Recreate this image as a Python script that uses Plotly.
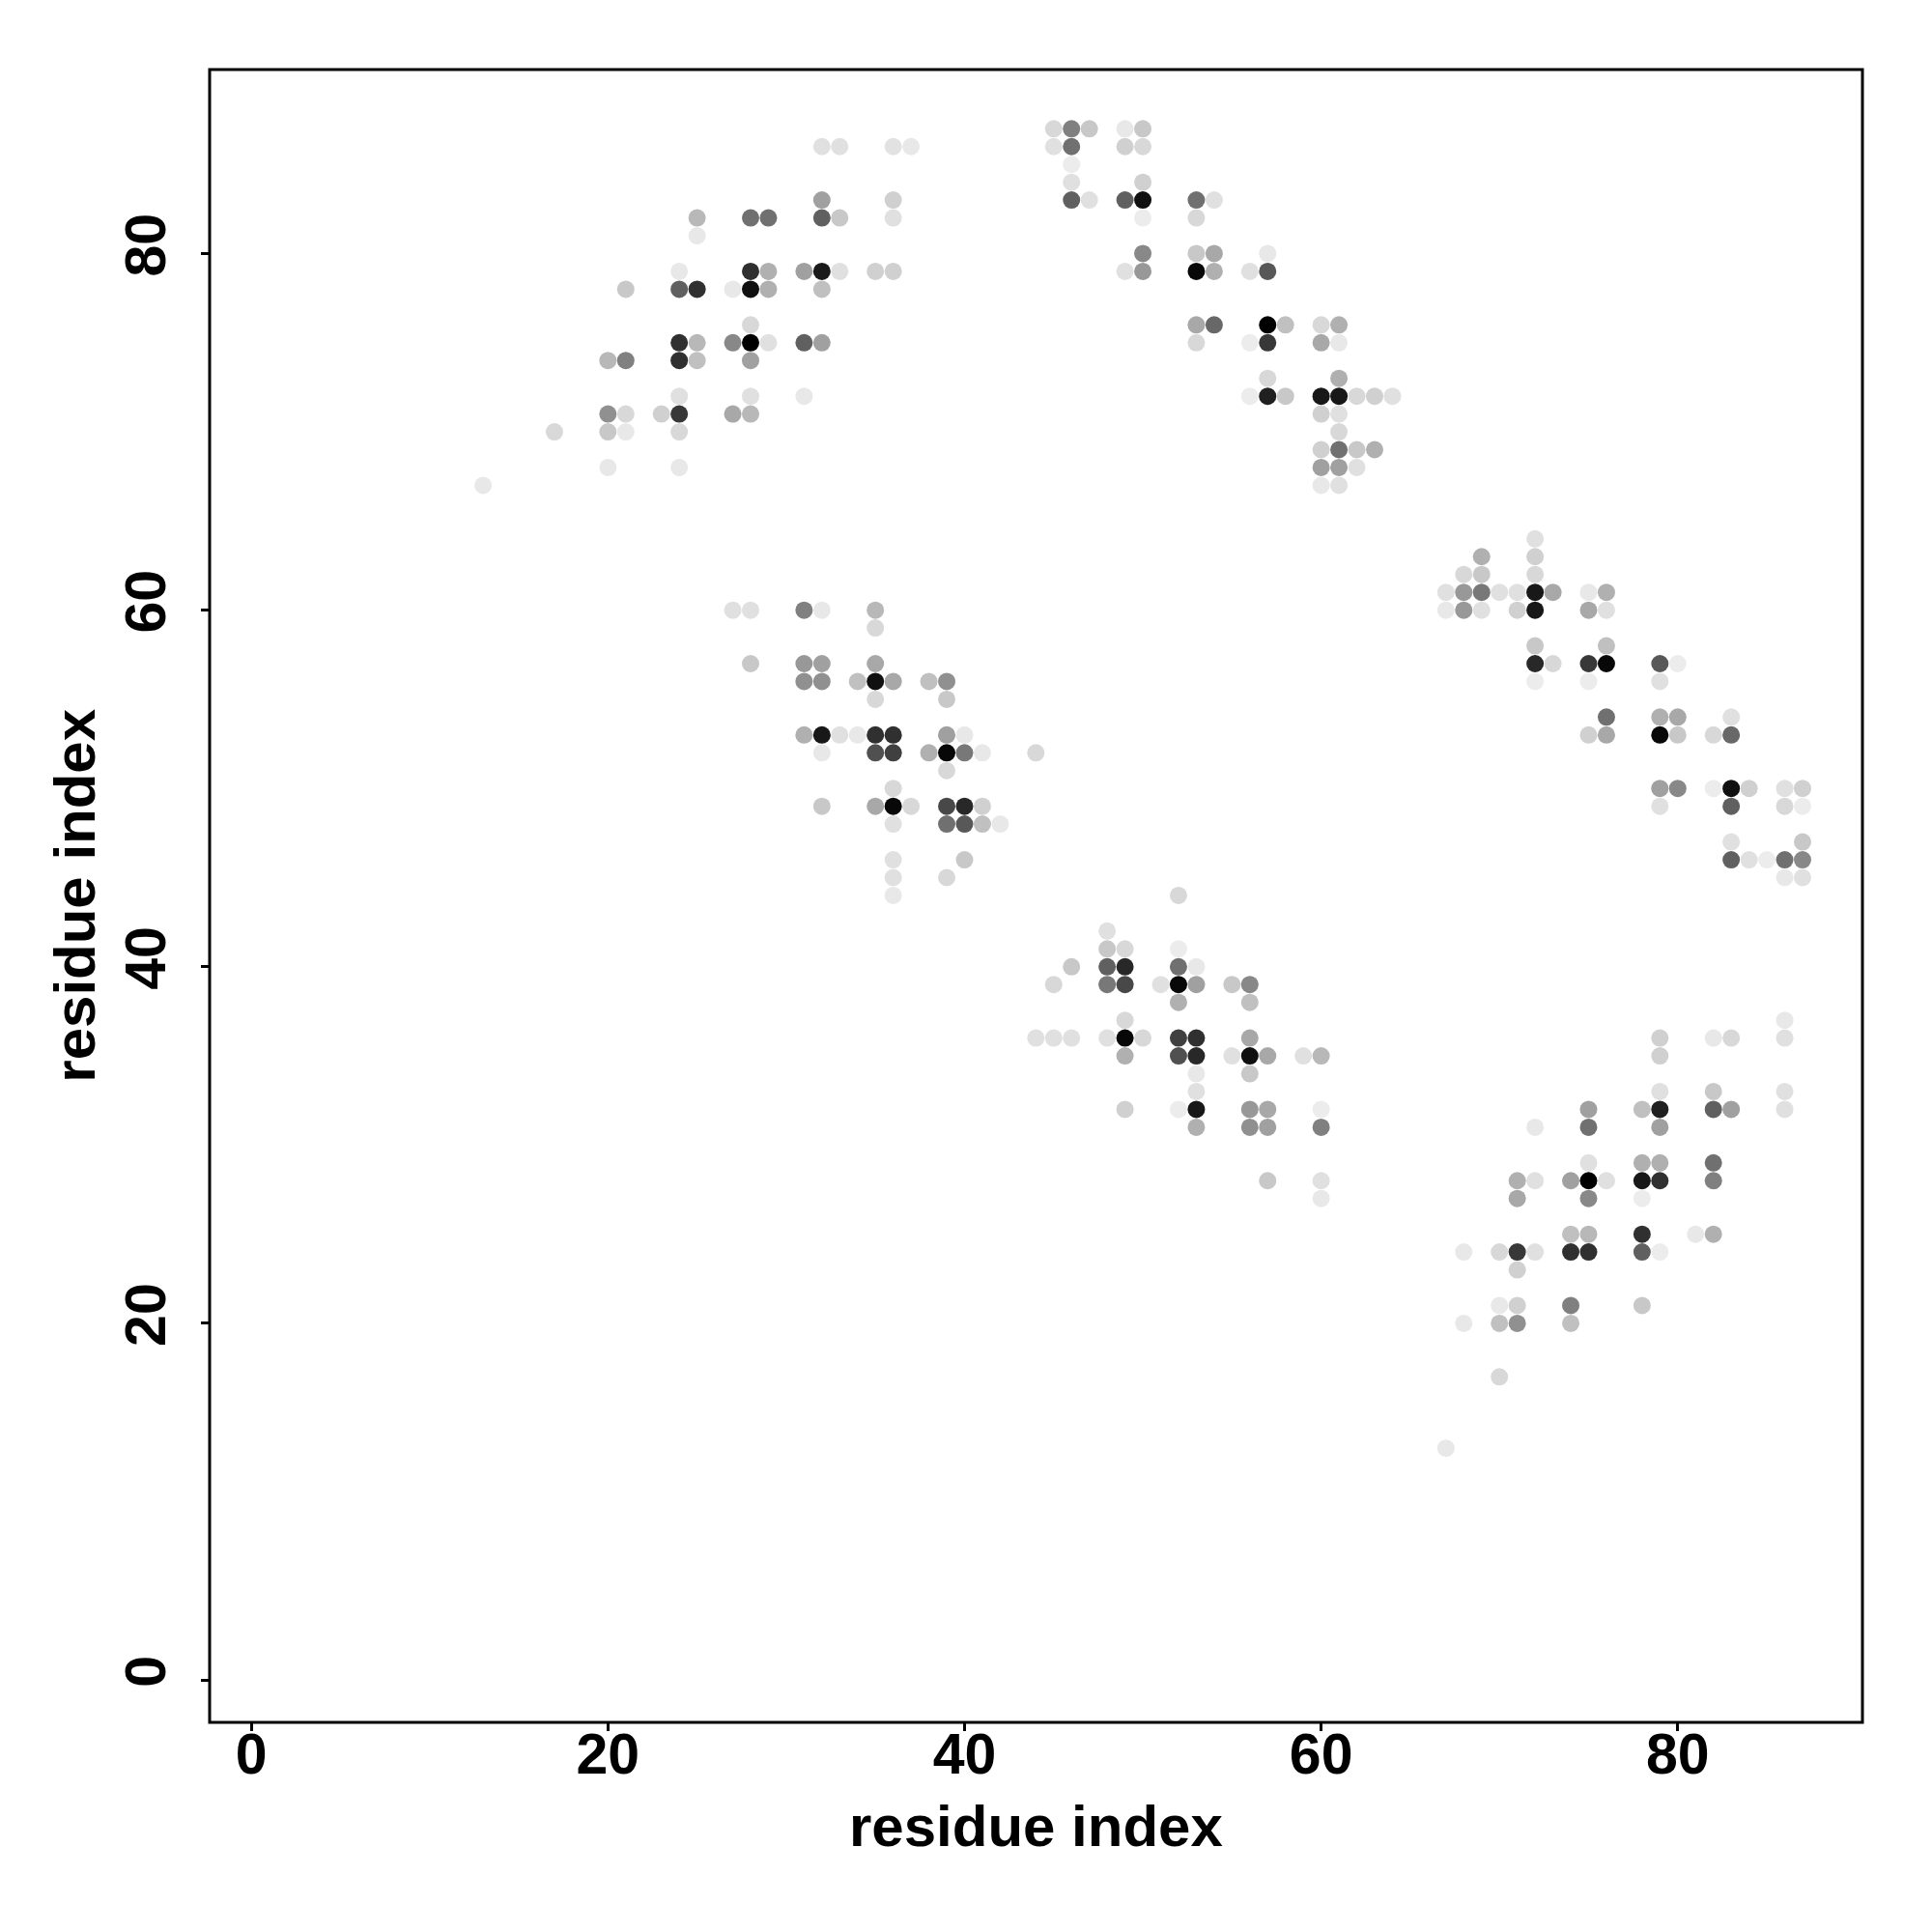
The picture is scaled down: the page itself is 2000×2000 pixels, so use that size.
import plotly.graph_objects as go

# (residue i, residue j, grey level 0=black .. 255=white)
cluster_a = [
    (32,86,224),(33,86,224),(36,86,226),(37,86,232),
    (32,83,160),(36,83,208),
    (25,82,184),(28,82,112),(29,82,112),(32,82,96),(33,82,200),(36,82,224),
    (25,81,232),
    (24,79,232),(28,79,48),(29,79,176),(31,79,160),(32,79,26),(33,79,224),(35,79,208),(36,79,208),
    (21,78,200),(24,78,96),(25,78,48),(27,78,232),(28,78,16),(29,78,176),(32,78,192),
    (28,76,216),
    (24,75,48),(25,75,184),(27,75,136),(28,75,0),(29,75,224),(31,75,96),(32,75,160),
    (20,74,184),(21,74,128),(24,74,48),(25,74,192),(28,74,160),
    (24,72,224),(28,72,224),(31,72,232),
    (20,71,144),(21,71,216),(23,71,208),(24,71,56),(27,71,168),(28,71,184),
    (17,70,216),(20,70,200),(21,70,232),(24,70,216),
    (20,68,232),(24,68,232),
    (13,67,232),
]
cluster_b = [
    (45,87,216),(46,87,128),(47,87,200),(49,87,232),(50,87,200),
    (45,86,224),(46,86,112),(49,86,208),(50,86,216),
    (46,85,236),
    (46,84,224),(50,84,208),
    (46,83,96),(47,83,224),(49,83,96),(50,83,16),(53,83,112),(54,83,224),
    (50,82,236),(53,82,216),
    (50,80,136),(53,80,200),(54,80,168),(57,80,232),
    (49,79,224),(50,79,152),(53,79,8),(54,79,176),(56,79,224),(57,79,88),
    (53,76,168),(54,76,104),(57,76,0),(58,76,192),(60,76,216),(61,76,176),
    (53,75,216),(56,75,236),(57,75,56),(60,75,168),(61,75,232),
    (57,73,216),(61,73,176),
    (56,72,236),(57,72,32),(58,72,200),(60,72,24),(61,72,24),(62,72,216),(63,72,208),(64,72,224),
    (60,71,208),(61,71,224),
    (61,70,216),
    (60,69,208),(61,69,112),(62,69,200),(63,69,176),
    (60,68,160),(61,68,160),(62,68,224),
    (60,67,232),(61,67,224),
]
cluster_c = [
    (27,60,224),(28,60,224),(31,60,128),(32,60,232),(35,60,184),
    (35,59,216),
    (28,57,200),(31,57,152),(32,57,160),(35,57,168),
    (31,56,144),(32,56,144),(34,56,192),(35,56,16),(36,56,168),(38,56,192),(39,56,144),
    (35,55,216),(39,55,200),
    (31,53,176),(32,53,24),(33,53,224),(34,53,232),(35,53,48),(36,53,48),(39,53,160),(40,53,232),
    (32,52,232),(35,52,80),(36,52,64),(38,52,176),(39,52,8),(40,52,120),(41,52,232),(44,52,216),
    (39,51,216),
    (36,50,216),
    (32,49,200),(35,49,168),(36,49,8),(37,49,216),(39,49,72),(40,49,40),(41,49,208),
    (36,48,224),(39,48,112),(40,48,88),(41,48,192),(42,48,232),
    (36,46,224),(40,46,200),
    (36,45,224),(39,45,216),
    (36,44,232),
]
cluster_d = [
    (72,64,224),
    (69,63,176),(72,63,208),
    (68,62,216),(69,62,200),(72,62,216),
    (67,61,224),(68,61,152),(69,61,120),(70,61,224),(71,61,224),(72,61,24),(73,61,168),(75,61,232),(76,61,176),
    (67,60,232),(68,60,152),(69,60,224),(71,60,208),(72,60,24),(75,60,168),(76,60,224),
    (72,58,200),(76,58,192),
    (72,57,40),(73,57,216),(75,57,56),(76,57,8),(79,57,88),(80,57,236),
    (72,56,236),(75,56,236),(79,56,224),
    (76,54,112),(79,54,176),(80,54,168),(83,54,224),
    (75,53,208),(76,53,168),(79,53,8),(80,53,200),(82,53,216),(83,53,104),
    (79,50,160),(80,50,136),(82,50,236),(83,50,16),(84,50,208),(86,50,224),(87,50,208),
    (79,49,224),(83,49,96),(86,49,216),(87,49,236),
    (83,47,224),(87,47,200),
    (83,46,96),(84,46,224),(85,46,236),(86,46,112),(87,46,136),
    (86,45,232),(87,45,224),
]
cluster_e = [
    (52,44,216),
    (48,42,224),
    (48,41,200),(49,41,216),(52,41,236),
    (46,40,200),(48,40,96),(49,40,40),(52,40,112),(53,40,232),
    (45,39,216),(48,39,120),(49,39,72),(51,39,224),(52,39,8),(53,39,160),(55,39,200),(56,39,136),
    (52,38,176),(56,38,192),
    (49,37,216),
    (44,36,224),(45,36,224),(46,36,224),(48,36,224),(49,36,8),(50,36,216),(52,36,64),(53,36,48),(56,36,168),
    (49,35,176),(52,35,80),(53,35,40),(55,35,224),(56,35,16),(57,35,168),(59,35,224),(60,35,184),
    (53,34,232),(56,34,200),
    (53,33,224),
    (49,32,208),(52,32,236),(53,32,24),(56,32,152),(57,32,168),(60,32,236),
    (53,31,176),(56,31,144),(57,31,160),(60,31,128),
    (57,28,200),(60,28,224),
    (60,27,232),
]
cluster_f = [
    (86,37,232),
    (79,36,208),(82,36,232),(83,36,216),(86,36,224),
    (79,35,208),
    (79,33,224),(82,33,200),(86,33,224),
    (75,32,160),(78,32,192),(79,32,32),(82,32,96),(83,32,160),(86,32,224),
    (72,31,232),(75,31,112),(79,31,160),
    (75,29,224),(78,29,176),(79,29,176),(82,29,112),
    (71,28,176),(72,28,224),(74,28,160),(75,28,0),(76,28,224),(78,28,24),(79,28,48),(82,28,128),
    (71,27,168),(75,27,136),(78,27,236),
    (74,25,192),(75,25,184),(78,25,48),(81,25,232),(82,25,176),
    (68,24,232),(70,24,216),(71,24,56),(72,24,224),(74,24,48),(75,24,48),(78,24,96),(79,24,236),
    (71,23,208),
    (70,21,232),(71,21,208),(74,21,128),(78,21,200),
    (68,20,232),(70,20,192),(71,20,144),(74,20,192),
    (70,17,216),
    (67,13,232),
]

tick_values = [0, 20, 40, 60, 80]
axis_title = "residue index"

points = cluster_a + cluster_b + cluster_c + cluster_d + cluster_e + cluster_f
res_i = [p[0] for p in points]
res_j = [p[1] for p in points]
colors = [f"rgb({p[2]},{p[2]},{p[2]})" for p in points]

fig = go.Figure(go.Scatter(
    x=res_i, y=res_j, mode="markers",
    marker=dict(size=18, color=colors, line=dict(width=0)),
    showlegend=False,
))

font_family = "Liberation Sans, Arial, Helvetica, sans-serif"
tick_font = dict(family=font_family, size=59, color="black", weight="bold")
title_font = dict(family=font_family, size=60, color="black", weight="bold")
common = dict(
    tickvals=tick_values,
    ticks="outside", ticklen=8, tickwidth=2.5, tickcolor="black",
    showline=False, showgrid=False, zeroline=False,
    tickfont=tick_font,
)

fig.update_layout(
    width=2000, height=2000,
    margin=dict(l=209, r=80, t=64, b=225),
    plot_bgcolor="white", paper_bgcolor="white",
    xaxis=dict(range=[-2.34, 90.36], ticklabelstandoff=-27, **common),
    yaxis=dict(range=[-2.38, 90.32], tickangle=-90, ticklabelstandoff=13, **common),
    shapes=[dict(type="rect", xref="paper", yref="paper", x0=0, y0=0, x1=1, y1=1,
                 line=dict(color="black", width=3))],
    annotations=[
        dict(text=axis_title, xref="paper", yref="paper", x=0.5, y=-0.0629,
             xanchor="center", yanchor="middle", showarrow=False, font=title_font),
        dict(text=axis_title, xref="paper", yref="paper", x=-0.0817, y=0.5,
             xanchor="center", yanchor="middle", textangle=-90, showarrow=False,
             font=title_font),
    ],
)

fig.write_html("out.html")
